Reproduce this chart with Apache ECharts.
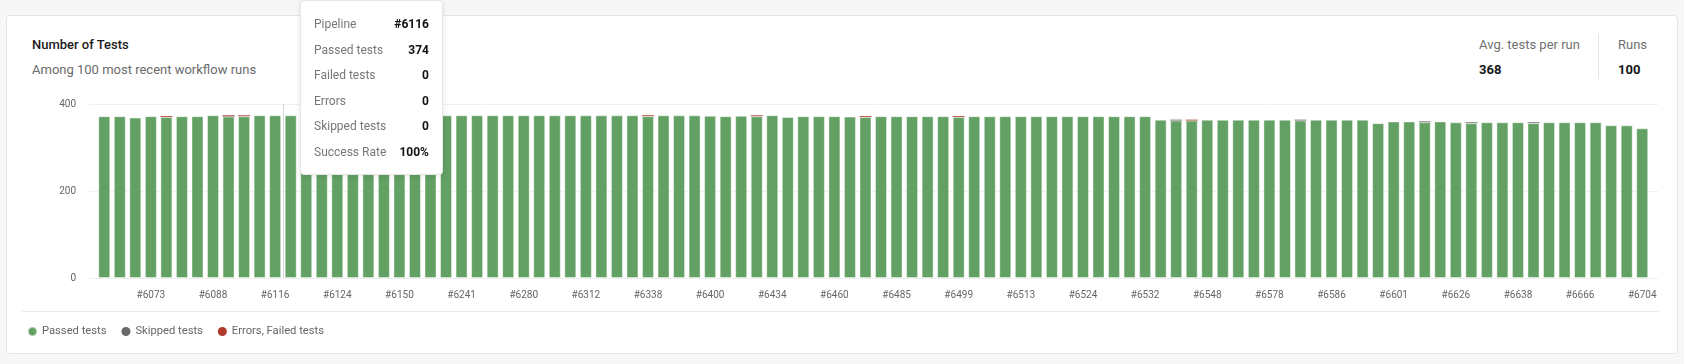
<!DOCTYPE html>
<html>
<head>
<meta charset="utf-8">
<script src="https://cdn.jsdelivr.net/npm/echarts@6/dist/echarts.min.js"></script>
<style>
  html, body { margin: 0; padding: 0; }
  body { width: 1684px; height: 364px; background: #f7f7f7; position: relative; overflow: hidden; font-family: Roboto, "Noto Sans", sans-serif; }
  .card { position: absolute; left: 6px; top: 15px; width: 1670px; height: 337px; background: #fff; border: 1px solid #e4e4e4; border-radius: 4px; }
  .t { position: absolute; font-size: 13px; line-height: 16px; white-space: nowrap; }
  .title { left: 32px; top: 37px; font-weight: 500; color: #1b1b1b; }
  .sub { left: 32px; top: 62px; color: #6b6b6b; }
  .lab { color: #707070; }
  .num { font-weight: 700; color: #161616; }
  .divider { position: absolute; left: 1598px; top: 34px; width: 1px; height: 45px; background: #e4e4e4; }
  .sep { position: absolute; left: 22px; top: 311px; width: 1637px; height: 1px; background: #ebebeb; }
  #chart { position: absolute; left: 0; top: 0; width: 1684px; height: 364px; }
</style>
</head>
<body>
<div class="card"></div>
<div class="t title">Number of Tests</div>
<div class="t sub">Among 100 most recent workflow runs</div>
<div class="t lab" style="left:1479px;top:37px;">Avg. tests per run</div>
<div class="t num" id="avg" style="left:1479px;top:62px;"></div>
<div class="divider"></div>
<div class="t lab" style="left:1618px;top:37px;">Runs</div>
<div class="t num" id="runs" style="left:1618px;top:62px;"></div>
<div class="sep"></div>
<div id="chart"></div>
<script>
const pipelines = [
  6061,6064,6069,6073,6076,6080,6085,6088,6093,6101,
  6109,6116,6118,6120,6122,6124,6131,6137,6144,6150,
  6172,6198,6220,6241,6250,6262,6271,6280,6289,6297,
  6305,6312,6318,6325,6331,6338,6351,6367,6384,6400,
  6409,6417,6426,6434,6440,6447,6453,6460,6466,6472,
  6479,6485,6488,6492,6495,6499,6502,6506,6509,6513,
  6516,6518,6521,6524,6526,6528,6530,6532,6536,6540,
  6544,6548,6556,6563,6571,6578,6580,6582,6584,6586,
  6590,6594,6597,6601,6607,6613,6620,6626,6629,6632,
  6635,6638,6645,6652,6659,6666,6675,6685,6694,6704
];
const passedTests = [
  372,372,369,372,370,372,372,374,371,372,
  374,374,374,374,374,374,374,374,374,374,
  374,374,374,374,374,374,374,374,374,374,
  374,374,374,374,374,372,374,374,374,373,
  372,373,372,374,370,372,372,372,371,370,
  372,372,372,372,372,370,372,372,372,372,
  372,372,372,372,372,372,372,372,364,362,
  362,364,364,364,364,364,364,362,364,364,
  364,364,356,360,360,358,360,358,356,358,
  358,358,356,358,358,358,358,351,351,344
];
const skippedTests = [
  0,0,0,0,0,0,0,0,1,0,
  0,0,0,0,0,0,0,0,0,0,
  0,0,0,0,0,0,0,0,0,0,
  0,0,0,0,0,0,0,0,0,0,
  0,0,0,0,0,0,0,0,0,0,
  0,0,0,0,0,0,0,0,0,0,
  0,0,0,0,0,0,0,0,0,2,
  0,0,0,0,0,0,0,2,0,0,
  0,0,0,0,0,2,0,0,2,0,
  0,0,2,0,0,0,0,0,0,0
];
const failedTests = [
  0,0,0,0,2,0,0,0,2,2,
  0,0,0,0,0,0,0,0,0,0,
  0,0,0,0,0,0,0,0,0,0,
  0,0,0,0,0,2,0,0,0,0,
  0,0,2,0,0,0,0,0,0,2,
  0,0,0,0,0,2,0,0,0,0,
  0,0,0,0,0,0,0,0,0,0,
  2,0,0,0,0,0,0,0,0,0,
  0,0,0,0,0,0,0,0,0,0,
  0,0,0,0,0,0,0,0,0,0
];
const errorTests = new Array(100).fill(0);
const yTicks = [0, 200, 400];
const shownIndex = 11;

const categories = pipelines.map(p => '#' + p);
const errFailed = failedTests.map((v, i) => v + errorTests[i]);
const totals = passedTests.map((v, i) => v + skippedTests[i] + errFailed[i]);
document.getElementById('avg').textContent = Math.floor(totals.reduce((a, b) => a + b, 0) / totals.length);
document.getElementById('runs').textContent = pipelines.length;

const FONT = 'Roboto';
const chart = echarts.init(document.getElementById('chart'), null, { renderer: 'canvas' });
const barBorder = 'rgba(255,255,255,0.45)';
chart.setOption({
  animation: false,
  textStyle: { fontFamily: FONT },
  grid: [
    { left: 89, right: 26, top: 104, bottom: 86 },
    { left: 96.5, right: 34, top: 104, bottom: 86 }
  ],
  xAxis: [
    { gridIndex: 0, type: 'value', min: 0, max: 1, show: false },
    {
      gridIndex: 1, type: 'category', data: categories,
      axisLine: { show: false }, axisTick: { show: false },
      axisLabel: {
        interval: (idx) => idx % 4 === 3,
        margin: 12, color: '#666', fontSize: 10, fontFamily: FONT
      }
    },
    {
      gridIndex: 1, type: 'value', min: 0, max: pipelines.length,
      axisLine: { show: false }, axisTick: { show: false },
      axisLabel: { show: false }, splitLine: { show: false },
      axisPointer: {
        show: true, type: 'line', value: shownIndex + 1, status: 'show', snap: false,
        triggerTooltip: false, label: { show: false },
        lineStyle: { color: '#d6d6d6', width: 1, type: 'solid' }
      }
    }
  ],
  yAxis: [
    {
      gridIndex: 0, type: 'value', min: yTicks[0], max: yTicks[yTicks.length - 1], interval: 200,
      axisLine: { show: false }, axisTick: { show: false },
      axisLabel: { margin: 13, color: '#666', fontSize: 10, fontFamily: FONT },
      splitLine: { lineStyle: { color: '#f0f0f0', width: 1 } }
    },
    { gridIndex: 1, type: 'value', min: yTicks[0], max: yTicks[yTicks.length - 1], show: false }
  ],
  legend: {
    left: 27, top: 326, padding: 0, icon: 'circle', itemWidth: 9, itemHeight: 9, itemGap: 15,
    textStyle: { color: '#666', fontSize: 11.2, fontFamily: FONT },
    data: ['Passed tests', 'Skipped tests', 'Errors, Failed tests']
  },
  tooltip: {
    trigger: 'item', alwaysShowContent: true, showDelay: 0, transitionDuration: 0,
    position: [300, 0], confine: false,
    backgroundColor: '#fff', borderColor: '#e6e6e6', borderWidth: 1, padding: [11, 13, 9, 13],
    extraCssText: 'box-shadow: 0 1px 6px rgba(0,0,0,0.10); border-radius: 4px;',
    formatter: (p) => {
      const i = p.dataIndex;
      const rate = Math.round(passedTests[i] / (passedTests[i] + failedTests[i] + errorTests[i]) * 100);
      const rows = [
        ['Pipeline', categories[i]],
        ['Passed tests', passedTests[i]],
        ['Failed tests', failedTests[i]],
        ['Errors', errorTests[i]],
        ['Skipped tests', skippedTests[i]],
        ['Success Rate', rate + '%']
      ];
      return '<div style="display:grid;grid-template-columns:auto auto;column-gap:8px;font-family:Roboto;font-size:12px;line-height:25.5px;">' +
        rows.map(r => '<span style="color:#777;">' + r[0] + '</span><span style="text-align:right;font-weight:700;color:#111;">' + r[1] + '</span>').join('') +
        '</div>';
    }
  },
  series: [
    {
      name: 'Passed tests', type: 'bar', stack: 'tests', xAxisIndex: 1, yAxisIndex: 1,
      barWidth: 12, data: passedTests,
      itemStyle: { color: '#62a063', borderColor: barBorder, borderWidth: 1 }
    },
    {
      name: 'Skipped tests', type: 'bar', stack: 'tests', xAxisIndex: 1, yAxisIndex: 1,
      barWidth: 12, data: skippedTests,
      itemStyle: { color: '#6a6a6a' }
    },
    {
      name: 'Errors, Failed tests', type: 'bar', stack: 'tests', xAxisIndex: 1, yAxisIndex: 1,
      barWidth: 12, data: errFailed,
      itemStyle: { color: '#b03a2e' }
    }
  ]
});
chart.dispatchAction({ type: 'showTip', seriesIndex: 0, dataIndex: shownIndex });
</script>
</body>
</html>
